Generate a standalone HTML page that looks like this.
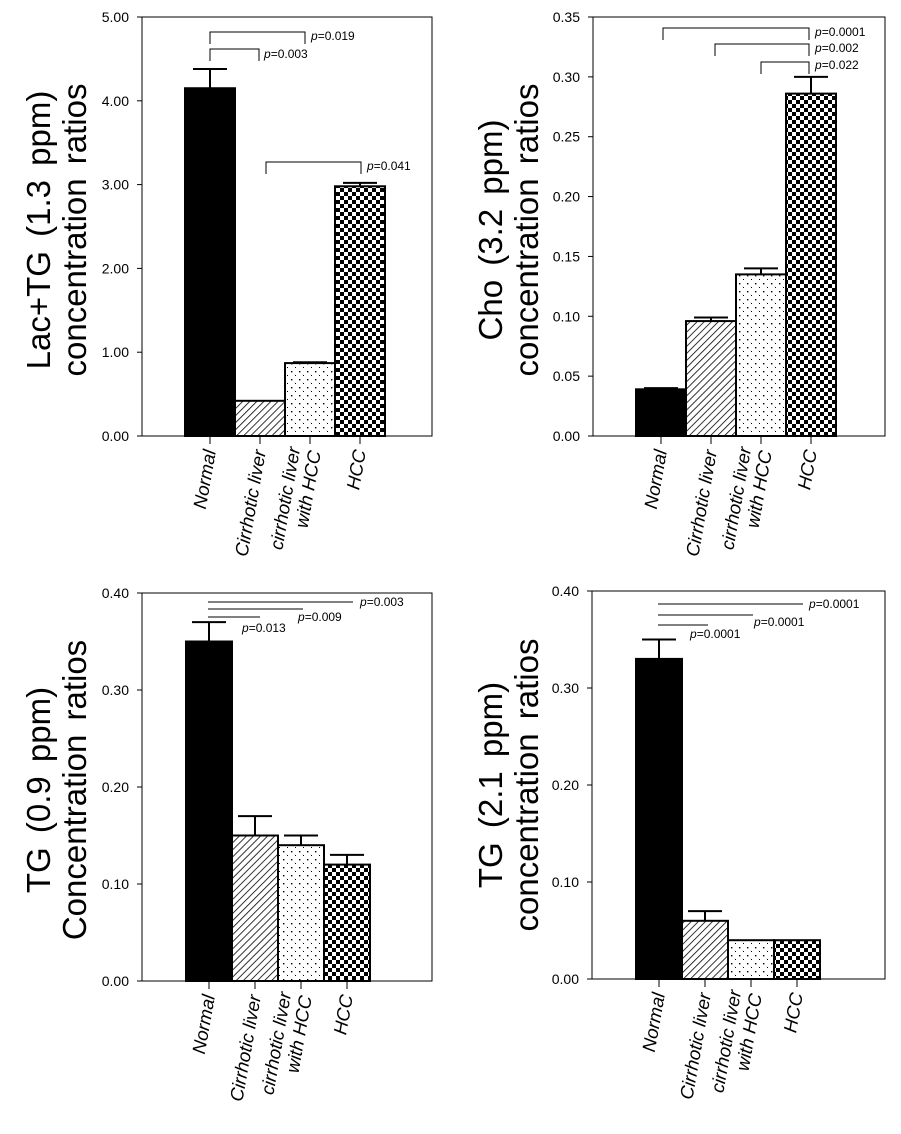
<!DOCTYPE html>
<html><head><meta charset="utf-8">
<style>
html,body{margin:0;padding:0;background:#fff;}
svg{display:block;font-family:"Liberation Sans",Arial,sans-serif;}
</style></head>
<body>
<svg id="fig" width="901" height="1134" viewBox="0 0 901 1134" xmlns="http://www.w3.org/2000/svg">
<defs>
<pattern id="hatch" patternUnits="userSpaceOnUse" width="5" height="5" patternTransform="rotate(45)">
<rect width="5" height="5" fill="#fff"/><line x1="0" y1="0" x2="0" y2="5" stroke="#000" stroke-width="1.6"/>
</pattern>
<pattern id="dots" patternUnits="userSpaceOnUse" width="8" height="8">
<rect width="8" height="8" fill="#fff"/><rect x="3" y="3" width="1.4" height="1.4" fill="#000"/><rect x="7" y="7" width="1.4" height="1.4" fill="#000"/>
</pattern>
<pattern id="check" patternUnits="userSpaceOnUse" width="8" height="8">
<rect width="8" height="8" fill="#fff"/><rect width="4" height="4" fill="#000"/><rect x="4" y="4" width="4" height="4" fill="#000"/>
</pattern>
</defs>
</svg>
<script>
// ---- data ----
const categories = ["Normal", "Cirrhotic liver", "cirrhotic liver|with HCC", "HCC"];
const lacValues = [4.15, 0.42, 0.87, 2.98];
const lacErrors = [0.23, 0, 0.01, 0.04];
const lacTicks = ["0.00","1.00","2.00","3.00","4.00","5.00"];
const choValues = [0.039, 0.096, 0.135, 0.286];
const choErrors = [0.001, 0.003, 0.005, 0.014];
const choTicks = ["0.00","0.05","0.10","0.15","0.20","0.25","0.30","0.35"];
const tg09Values = [0.35, 0.15, 0.14, 0.12];
const tg09Errors = [0.02, 0.02, 0.01, 0.01];
const tg09Ticks = ["0.00","0.10","0.20","0.30","0.40"];
const tg21Values = [0.33, 0.06, 0.04, 0.04];
const tg21Errors = [0.02, 0.01, 0, 0];
const tg21Ticks = ["0.00","0.10","0.20","0.30","0.40"];
const fills = ["#000", "url(#hatch)", "url(#dots)", "url(#check)"];

const NS = "http://www.w3.org/2000/svg";
const svg = document.getElementById("fig");
function mk(tag, attrs, parent, text){
  const e = document.createElementNS(NS, tag);
  for (const k in attrs) e.setAttribute(k, attrs[k]);
  if (text !== undefined) e.textContent = text;
  (parent || svg).appendChild(e);
  return e;
}

function panel(cfg){
  const g = mk("g", {});
  
  
  const {L,R,T,B,ymax} = cfg;
  const y = v => B - (v / ymax) * (B - T);
  const x0 = cfg.barX0, bw = cfg.barW;
  const frame = mk("rect", {x:L, y:T, width:R-L, height:B-T, fill:"none", stroke:"#000", "stroke-width":1}, g);
  
  
  const step = ymax / (cfg.ticks.length - 1);
  cfg.ticks.forEach((t, i) => {
    const yy = y(i * step);
    mk("line", {x1:L-5, x2:L, y1:yy, y2:yy, stroke:"#000"}, g);
    const tl = mk("text", {x:L-13, y:yy+5, "font-size":14, "text-anchor":"end"}, g, t);
    
    
  });
  cfg.values.forEach((v, i) => {
    const bx = x0 + i * bw, cx = bx + bw/2;
    const e = cfg.errors[i];
    if (e > 0) {
      const eb = mk("g", {}, g);
      
      
      mk("line", {x1:cx, x2:cx, y1:y(v), y2:y(v+e), stroke:"#000", "stroke-width":2}, eb);
      mk("line", {x1:cx-17, x2:cx+17, y1:y(v+e), y2:y(v+e), stroke:"#000", "stroke-width":2}, eb);
    }
    const r = mk("rect", {x:bx, y:y(v), width:bw, height:B - y(v), fill:fills[i], stroke:"#000", "stroke-width":2}, g);
    
    
    mk("line", {x1:cx, x2:cx, y1:B, y2:B+8, stroke:"#000"}, g);
    const lines = categories[i].split("|");
    const tx = mk("text", {transform:`translate(${cx+6},${B+15}) rotate(-80)`, "font-size":18.5, "font-style":"italic", "text-anchor":"end"}, g);
    
    
    lines.forEach((ln, j) => {
      mk("tspan", {x:0, dy: j===0 ? (lines.length>1 ? -16 : 0) : 21}, tx, ln);
    });
  });
  const yt = mk("text", {transform:`translate(${cfg.titleX},${cfg.titleY}) rotate(-90)`, "font-size":33, "text-anchor":"middle", "word-spacing":"5"}, g);
  
  
  mk("tspan", {x:0, dy:0}, yt, cfg.title[0]);
  mk("tspan", {x:0, dy:36}, yt, cfg.title[1]);
  cfg.sig.forEach(s => {
    const sg = mk("g", {}, g);
    
    
    if (s.bracket) {
      mk("polyline", {points:`${s.x1},${s.y+12} ${s.x1},${s.y} ${s.x2},${s.y} ${s.x2},${s.y+12}`, fill:"none", stroke:"#000", "stroke-width":1}, sg);
    } else {
      mk("line", {x1:s.x1, x2:s.x2, y1:s.y, y2:s.y, stroke:"#000", "stroke-width":1}, sg);
    }
    const t = mk("text", {x:s.tx, y:s.ty, "font-size":12}, sg);
    mk("tspan", {"font-style":"italic"}, t, "p");
    mk("tspan", {}, t, "=" + s.p);
  });
}

panel({name:"chart-lac-tg", L:142, R:432, T:17, B:436, ymax:5, ticks:lacTicks, values:lacValues, errors:lacErrors,
  barX0:185, barW:50, title:["Lac+TG (1.3 ppm)","concentration ratios"], titleX:50, titleY:230,
  sig:[{bracket:true,x1:210,x2:305,y:32,tx:311,ty:40,p:"0.019"},
       {bracket:true,x1:210,x2:259,y:49,tx:264,ty:58,p:"0.003"},
       {bracket:true,x1:266,x2:361,y:162,tx:367,ty:170,p:"0.041"}]});

panel({name:"chart-cho", L:593, R:885, T:17, B:436, ymax:0.35, ticks:choTicks, values:choValues, errors:choErrors,
  barX0:636, barW:50, title:["Cho (3.2 ppm)","concentration ratios"], titleX:502, titleY:230,
  sig:[{bracket:true,x1:663,x2:809,y:28,tx:815,ty:36,p:"0.0001"},
       {bracket:true,x1:715,x2:809,y:44,tx:815,ty:52,p:"0.002"},
       {bracket:true,x1:761,x2:809,y:62,tx:815,ty:69,p:"0.022"}]});

panel({name:"chart-tg-09", L:142, R:432, T:593, B:981, ymax:0.4, ticks:tg09Ticks, values:tg09Values, errors:tg09Errors,
  barX0:186, barW:46, title:["TG (0.9 ppm)","Concentration ratios"], titleX:50, titleY:790,
  sig:[{x1:208,x2:353,y:602,tx:360,ty:606,p:"0.003"},
       {x1:208,x2:303,y:609,tx:298,ty:621,p:"0.009"},
       {x1:208,x2:260,y:617,tx:242,ty:632,p:"0.013"}]});

panel({name:"chart-tg-21", L:592, R:885, T:591, B:979, ymax:0.4, ticks:tg21Ticks, values:tg21Values, errors:tg21Errors,
  barX0:636, barW:46, title:["TG (2.1 ppm)","concentration ratios"], titleX:502, titleY:785,
  sig:[{x1:658,x2:803,y:604,tx:809,ty:608,p:"0.0001"},
       {x1:658,x2:753,y:615,tx:754,ty:626,p:"0.0001"},
       {x1:658,x2:708,y:625,tx:690,ty:638,p:"0.0001"}]});
</script>
</body></html>
